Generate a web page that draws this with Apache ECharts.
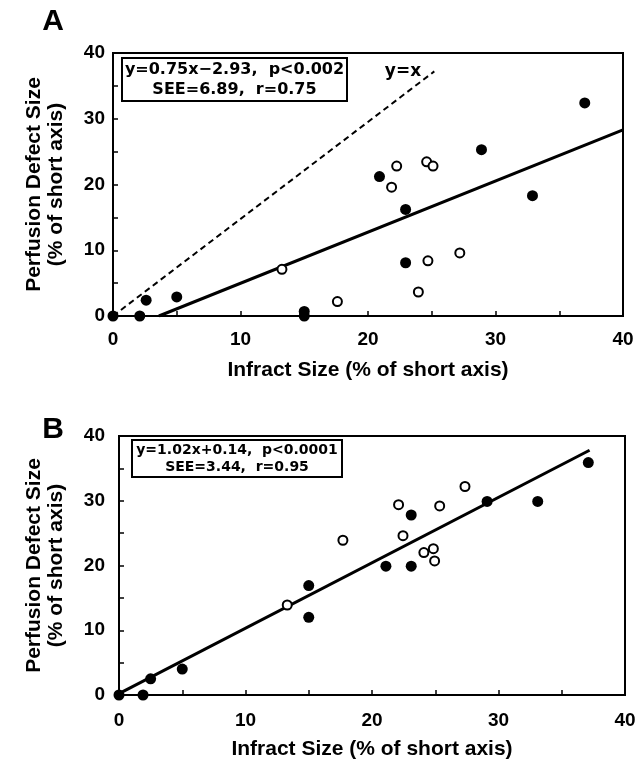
<!DOCTYPE html>
<html>
<head>
<meta charset="utf-8">
<script src="https://cdn.jsdelivr.net/npm/echarts@6/dist/echarts.min.js"></script>
<style>
html,body{margin:0;padding:0;background:#fff;}
#chart{width:644px;height:763px;}
</style>
</head>
<body>
<div id="chart"></div>
<script>
// Panel A data: [infarct size, perfusion defect size]
const aFilled = [[0,0],[2.1,0],[2.6,2.4],[5.0,2.9],[15,0.7],[15,0],[20.9,21.2],[22.95,16.2],[22.95,8.1],[28.9,25.3],[32.9,18.3],[37.0,32.4]];
const aOpen = [[13.25,7.1],[17.6,2.2],[21.85,19.6],[22.25,22.8],[23.95,3.65],[24.6,23.45],[25.1,22.8],[24.7,8.4],[27.2,9.6]];
const aFit = [[3.6,0],[40,28.3]];
const aIdentity = [[0,0],[25.2,37.2]];
// Panel B data
const bFilled = [[0,0],[1.9,0],[2.5,2.5],[5.0,4.0],[15.0,16.9],[15.0,12.0],[21.1,19.9],[23.1,19.9],[23.1,27.8],[29.1,29.9],[33.1,29.9],[37.1,35.9]];
const bOpen = [[13.3,13.9],[17.7,23.9],[22.1,29.4],[22.45,24.6],[24.1,22.0],[24.85,22.6],[24.95,20.7],[25.35,29.2],[27.35,32.2]];
const bFit = [[0,0.2],[37.2,37.8]];
// Axis ticks / text
const axisMin = 0, axisMax = 40, tickStep = 5, labelStep = 10;
const xName = 'Infract Size (% of short axis)';
const yName = 'Perfusion Defect Size\n(% of short axis)';
const statsA = ['y=0.75x\u22122.93,  p<0.002', 'SEE=6.89,  r=0.75'];
const statsB = ['y=1.02x+0.14,  p<0.0001', 'SEE=3.44,  r=0.95'];

const FONT = '"Liberation Sans", Arial, sans-serif';
const chart = echarts.init(document.getElementById('chart'), null, {renderer:'canvas'});

function xAx(gi, margin){
  return {
    gridIndex: gi, type:'value', min:axisMin, max:axisMax, interval:tickStep,
    name: xName, nameLocation:'middle', nameGap: 44,
    nameTextStyle:{fontFamily:FONT, fontWeight:'bold', fontSize:21, color:'#000'},
    axisLine:{show:true, onZero:false, lineStyle:{color:'#000', width:2}},
    axisTick:{show:true, inside:true, length:5, lineStyle:{color:'#000', width:1.5}},
    axisLabel:{margin:margin, fontFamily:FONT, fontWeight:'bold', fontSize:19, color:'#000',
      formatter: v => (v % labelStep === 0 ? String(v) : '')},
    splitLine:{show:false}
  };
}
function yAx(gi, margin, gap){
  return {
    gridIndex: gi, type:'value', min:axisMin, max:axisMax, interval:tickStep,
    name: yName, nameLocation:'middle', nameGap: gap, nameRotate:90,
    nameTextStyle:{fontFamily:FONT, fontWeight:'bold', fontSize:21, color:'#000', lineHeight:22},
    axisLine:{show:true, onZero:false, lineStyle:{color:'#000', width:2}},
    axisTick:{show:true, inside:true, length:5, lineStyle:{color:'#000', width:1.5}},
    axisLabel:{margin:margin, fontFamily:FONT, fontWeight:'bold', fontSize:19, color:'#000',
      formatter: v => (v % labelStep === 0 ? String(v) : '')},
    splitLine:{show:false}
  };
}
function filled(i, data){
  return {type:'scatter', xAxisIndex:i, yAxisIndex:i, data:data, symbol:'circle', symbolSize:11,
    itemStyle:{color:'#000', opacity:1}, z:5, silent:true};
}
function open(i, data){
  return {type:'scatter', xAxisIndex:i, yAxisIndex:i, data:data, symbol:'circle', symbolSize:9,
    itemStyle:{color:'#fff', borderColor:'#000', borderWidth:2, opacity:1}, z:5, silent:true};
}
function line(i, data, dashed){
  return {type:'line', xAxisIndex:i, yAxisIndex:i, data:data, showSymbol:false, symbol:'none',
    lineStyle:{color:'#000', width: dashed ? 2 : 3, type: dashed ? [6,4] : 'solid'}, z:3, silent:true, animation:false};
}
function statBox(x, y, w, h, lines, fs, lh){
  return [
    {type:'rect', shape:{x:x, y:y, width:w, height:h}, style:{fill:'#fff', stroke:'#000', lineWidth:2}, z:10},
    {type:'text', x:x + w/2, y:y + h/2, style:{text: lines.join('\n'), font:'bold ' + fs + 'px "DejaVu Sans", sans-serif',
      fill:'#000', align:'center', verticalAlign:'middle', lineHeight:lh}, z:11}
  ];
}

chart.setOption({
  animation:false,
  backgroundColor:'#fff',
  grid:[
    {left:113, top:53, right:21, bottom:447, show:true, borderColor:'#000', borderWidth:2, backgroundColor:'transparent'},
    {left:119, top:436, right:19, bottom:68, show:true, borderColor:'#000', borderWidth:2, backgroundColor:'transparent'}
  ],
  xAxis:[xAx(0, 14), xAx(1, 16)],
  yAxis:[yAx(0, 8, 46), yAx(1, 14, 52)],
  series:[
    line(0, aIdentity, true),
    line(0, aFit, false),
    filled(0, aFilled),
    open(0, aOpen),
    line(1, bFit, false),
    filled(1, bFilled),
    open(1, bOpen)
  ],
  graphic:[
    {type:'text', x:53, y:22, style:{text:'A', font:'bold 30px ' + FONT, fill:'#000', align:'center', verticalAlign:'middle'}},
    {type:'text', x:53, y:430, style:{text:'B', font:'bold 30px ' + FONT, fill:'#000', align:'center', verticalAlign:'middle'}},
    {type:'text', x:403, y:72, style:{text:'y=x', font:'bold 17px "DejaVu Sans", sans-serif', fill:'#000', align:'center', verticalAlign:'middle'}},
    ...statBox(122, 58, 225, 43, statsA, 16, 20),
    ...statBox(132, 440, 210, 37, statsB, 14, 17)
  ]
});
</script>
</body>
</html>
